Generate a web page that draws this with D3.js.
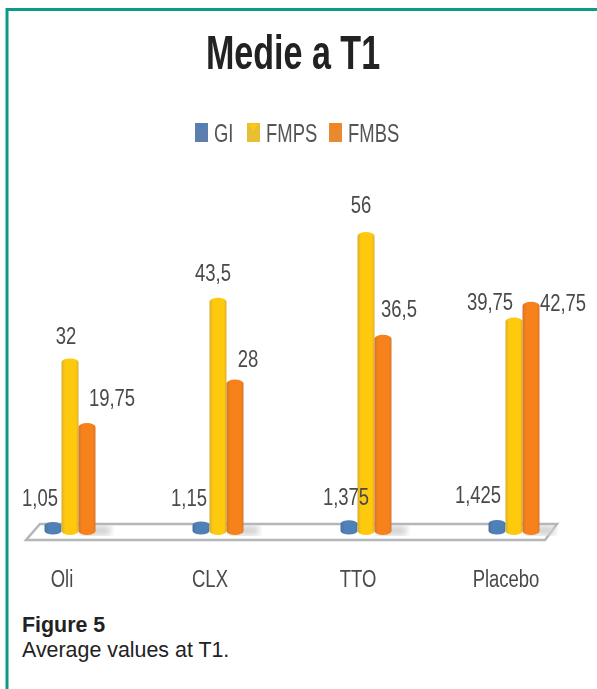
<!DOCTYPE html>
<html>
<head>
<meta charset="utf-8">
<script src="https://cdnjs.cloudflare.com/ajax/libs/d3/7.8.5/d3.min.js"></script>
<style>
  html, body { margin: 0; padding: 0; background: #fff; }
  svg { display: block; }
  .lbl { font-family: "Liberation Sans", sans-serif; font-size: 24px; fill: #4a4a4a; }
  .legend .lbl { font-size: 26px; fill: #555; }
</style>
</head>
<body>
<svg id="chart" width="597" height="689"></svg>
<script>
var categories = ['Oli', 'CLX', 'TTO', 'Placebo'];
var seriesNames = ['GI', 'FMPS', 'FMBS'];
var giValues = [1.05, 1.15, 1.375, 1.425];
var fmpsValues = [32, 43.5, 56, 39.75];
var fmbsValues = [19.75, 28, 36.5, 42.75];
var giLabels = ['1,05', '1,15', '1,375', '1,425'];
var fmpsLabels = ['32', '43,5', '56', '39,75'];
var fmbsLabels = ['19,75', '28', '36,5', '42,75'];

// hand placed label nudges, the original chart moved these around
var giNudge = [[-13, -19], [-12, -19], [-3, -19], [-19, -20]];
var fmpsNudge = [[-4, -18], [-5, -21], [-5, -23], [-24, -12]];
var fmbsNudge = [[25, -21], [13, -17], [16, -22], [32, 5]];

var colors = {
  GI: ['#47729f', '#4f80b8', '#4a78ac'],
  FMPS: ['#dcae2a', '#ffc90f', '#dcae2a'],
  FMBS: ['#d4762a', '#f7821c', '#d4762a']
};
var swatchColors = { GI: '#5c7fae', FMPS: '#e6c032', FMBS: '#e78a30' };

var svg = d3.select('#chart');
var defs = svg.append('defs');

seriesNames.forEach(function(name) {
  var g = defs.append('linearGradient').attr('id', 'grad' + name);
  var offsets = ['0%', '22%', '85%', '100%'];
  [colors[name][0], colors[name][1], colors[name][1], colors[name][2]].forEach(function(c, i) {
    g.append('stop').attr('offset', offsets[i]).attr('stop-color', c);
  });
});
defs.append('filter').attr('id', 'soft')
  .attr('x', '-5%').attr('y', '-5%').attr('width', '110%').attr('height', '110%')
  .append('feGaussianBlur').attr('stdDeviation', 0.6);
defs.append('filter').attr('id', 'shadow')
  .append('feGaussianBlur').attr('stdDeviation', 3);

// frame
svg.append('path').attr('d', 'M7,689V9.5H597')
  .attr('fill', 'none').attr('stroke', '#0d9a86').attr('stroke-width', 3);

var x0 = d3.scaleBand().domain(categories).range([-4, 588]);
var x1 = d3.scaleBand().domain(seriesNames).range([0, 51]);
var y = d3.scaleLinear().domain([0, 56]).range([531, 236]);
var groupLeft = function(cat) { return x0(cat) + (x0.bandwidth() - 51) / 2; };
var capRy = 4;

// no condensed font here, so squeeze the regular one around its anchor
function narrow(sel, factor) {
  sel.each(function() {
    var t = d3.select(this);
    var px = +t.attr('x') || 0, py = +t.attr('y') || 0;
    t.attr('x', 0).attr('y', 0)
      .attr('transform', 'translate(' + px + ',' + py + ') scale(' + factor + ',1)');
  });
}

var chart = svg.append('g').attr('filter', 'url(#soft)');

// title
chart.append('text').attr('x', 293).attr('y', 69).attr('text-anchor', 'middle')
  .style('font-family', '"Liberation Sans", sans-serif')
  .style('font-weight', 'bold').style('font-size', '48px').style('fill', '#222')
  .text('Medie a T1')
  .call(narrow, 0.71);

// legend
var legendX = d3.scaleOrdinal().domain(seriesNames).range([195, 247, 329]);
var legend = chart.selectAll('.legend').data(seriesNames).enter().append('g')
  .attr('class', 'legend')
  .attr('transform', function(d) { return 'translate(' + legendX(d) + ',123)'; });
legend.append('rect').attr('width', 13).attr('height', 19)
  .attr('fill', function(d) { return swatchColors[d]; });
legend.append('path').attr('d', 'M2,1H11L6.5,8Z')
  .attr('fill', function(d) { return colors[d][1]; });
legend.append('text').attr('class', 'lbl').attr('x', 19).attr('y', 18.5).text(function(d) { return d; })
  .call(narrow, 0.71);

// floor
var floorL = x0(categories[0]);
chart.append('path')
  .attr('d', 'M' + (floorL + 44) + ',' + (y(0) - 7) + 'H' + (floorL + 561) +
    'L' + (floorL + 549) + ',' + (y(0) + 9) + 'H' + (floorL + 30) + 'Z')
  .attr('fill', '#fff').attr('stroke', '#b4b7ba').attr('stroke-width', 2.5);

// shadows on the floor
chart.selectAll('.shadow').data(categories).enter().append('rect')
  .attr('class', 'shadow')
  .attr('x', function(d) { return groupLeft(d) + 36; })
  .attr('y', y(0) - 5)
  .attr('width', 30).attr('height', 9)
  .attr('fill', '#cfcfcf').attr('filter', 'url(#shadow)');

// cylinders, back to front
function cylinders(name, values) {
  var w = x1.bandwidth();
  var ry = name === 'GI' ? 3.5 : capRy;
  var rows = categories.map(function(c, i) { return { cat: c, v: values[i] }; });
  var g = chart.selectAll('.cyl-' + name).data(rows).enter().append('g').attr('class', 'cyl-' + name);
  g.append('path')
    .attr('d', function(d) {
      var l = groupLeft(d.cat) + x1(name), r = l + w;
      return 'M' + l + ',' + y(d.v) + 'V' + y(0) +
        'A' + w / 2 + ',' + ry + ' 0 0 0 ' + r + ',' + y(0) +
        'V' + y(d.v) + 'A' + w / 2 + ',' + ry + ' 0 0 0 ' + l + ',' + y(d.v) + 'Z';
    })
    .attr('fill', 'url(#grad' + name + ')');
}
cylinders('GI', giValues);
cylinders('FMPS', fmpsValues);
cylinders('FMBS', fmbsValues);

// value labels
function valueLabels(name, values, labels, nudge) {
  chart.selectAll('.val-' + name).data(labels).enter().append('text')
    .attr('class', 'lbl val-' + name)
    .attr('text-anchor', 'middle')
    .attr('x', function(d, i) { return groupLeft(categories[i]) + x1(name) + x1.bandwidth() / 2 + nudge[i][0]; })
    .attr('y', function(d, i) { return y(values[i]) + nudge[i][1]; })
    .text(function(d) { return d; })
    .call(narrow, 0.77);
}
valueLabels('GI', giValues, giLabels, giNudge);
valueLabels('FMPS', fmpsValues, fmpsLabels, fmpsNudge);
valueLabels('FMBS', fmbsValues, fmbsLabels, fmbsNudge);

// category axis
var axis = chart.append('g').attr('transform', 'translate(-8,587)')
  .call(d3.axisBottom(x0).tickSize(0).tickPadding(0));
axis.select('.domain').remove();
axis.selectAll('text').attr('class', 'lbl').attr('dy', 0).attr('y', 0).call(narrow, 0.77);
axis.attr('font-size', null).attr('font-family', null);

// caption
var caption = svg.append('g').style('font-family', '"Liberation Sans", Arial, sans-serif')
  .style('font-size', '21.4px').style('fill', '#222');
caption.append('text').attr('x', 22).attr('y', 632).style('font-weight', 'bold').text('Figure 5');
caption.append('text').attr('x', 22).attr('y', 657).text('Average values at T1.');
</script>
</body>
</html>
